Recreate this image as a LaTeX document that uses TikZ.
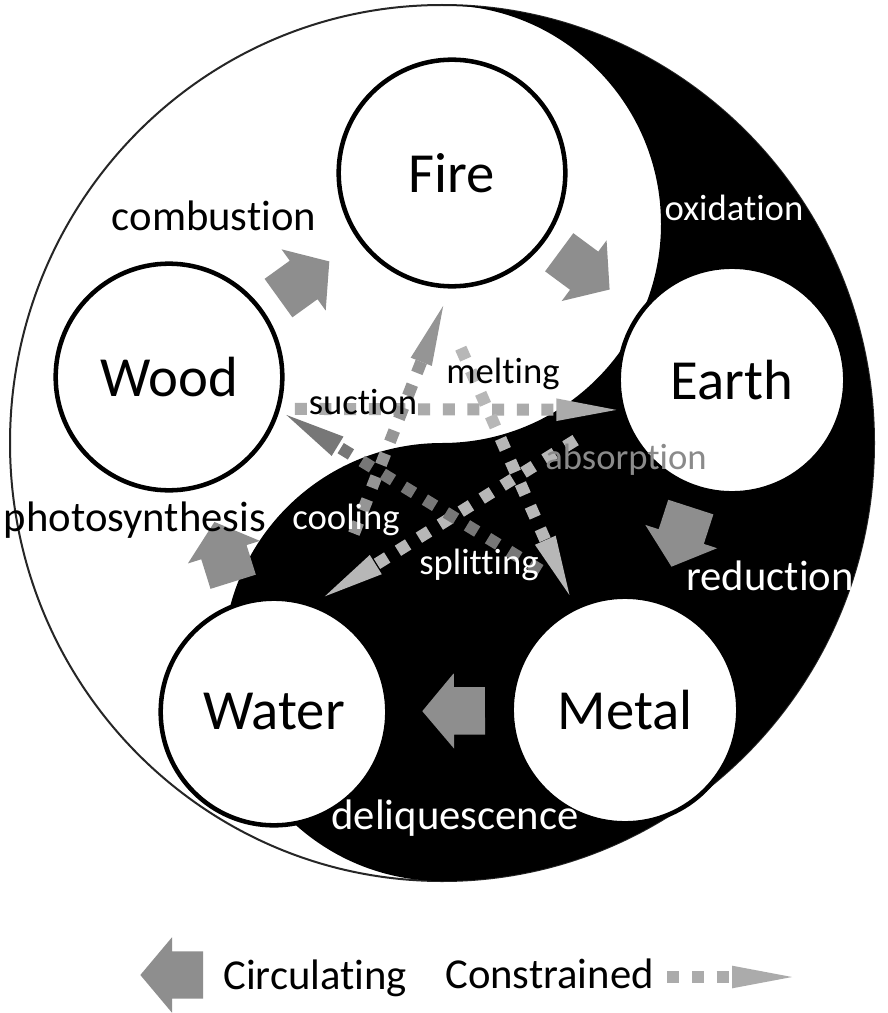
\documentclass[tikz,border=0pt]{standalone}
\usepackage{fontspec}
\setmainfont{Carlito}[Ligatures={NoCommon,NoContextual}]
\usetikzlibrary{shapes.arrows,arrows.meta}

\definecolor{circgray}{HTML}{8E8E8E}
\definecolor{consgray}{HTML}{ABABAB}
\definecolor{consdark}{HTML}{777777}
\definecolor{consmid}{HTML}{959595}
\definecolor{conslight}{HTML}{B7B7B7}
\definecolor{labgray}{HTML}{8A8A8A}

\newcommand{\elemfont}{\fontsize{42.5}{48}\selectfont}
\newcommand{\bigfont}{\fontsize{32}{38}\selectfont}
\newcommand{\smallfont}{\fontsize{27.5}{32}\selectfont}

\tikzset{
  element/.style={circle, draw=black, line width=3.4pt, fill=white,
    minimum size=170pt, inner sep=0pt, font=\elemfont},
  circ/.style={single arrow, fill=circgray, draw=none, inner xsep=0pt,
    inner ysep=17.6pt, minimum height=47pt, single arrow head extend=10.5pt,
    single arrow tip angle=100, anchor=tip},
  flow/.style={circ, sloped, allow upside down},
  cons/.style={draw=consgray, line width=9pt, dash pattern=on 9pt off 9.5pt,
    -{Triangle[length=45pt, width=17pt, line width=0pt]}},
  lab/.style={inner sep=0pt, font=\smallfont},
  biglab/.style={inner sep=0pt, font=\bigfont},
}

\begin{document}
\begin{tikzpicture}[x=0.75pt,y=0.75pt]
 \useasboundingbox[fill=white] (0,0) rectangle (888,-1013);
 % yin and yang
 \draw[line width=1.5pt,black!85] (442,-443) ellipse [x radius=432, y radius=438];
 \fill[black] (442,-5) arc[start angle=90, end angle=-90, x radius=432, y radius=438]
   arc[start angle=-90, end angle=-270, radius=219]
   arc[start angle=-90, end angle=90, radius=219] -- cycle;
 % the five elements
 \node[element] (fire) at (452,-173) {Fire};
 \node[element] (wood) at (169,-377) {Wood};
 \node[element] (earth) at (732,-380) {Earth};
 \node[element] (water) at (274,-712) {Water};
 \node[element] (metal) at (625,-710) {Metal};
 % circulating
 \path (wood) -- node[flow, pos=0.70] (c1) {} (fire);
 \path (fire) -- node[flow, pos=0.69] (c2) {} (earth);
 \path (earth) -- node[flow, pos=0.70] (c3) {} (metal);
 \path (metal) -- node[flow, pos=0.73] (c4) {} (water);
 \path (water) -- node[flow, pos=0.70] (c5) {} (wood);
 % constrained
 \draw[cons, shorten <=11pt, shorten >=3pt] (wood.-16) -- (earth.195);
 \draw[cons, draw=conslight, shorten <=40pt, shorten >=10pt] (earth.196) -- (water.70);
 \draw[cons, draw=conslight, shorten <=50pt, shorten >=9pt] (fire.261) -- (metal.116);
 \draw[cons, draw=consmid, shorten <=60pt, shorten >=14pt] (water.64) -- (fire.269);
 \draw[cons, draw=consdark, shorten <=43pt, shorten >=6pt] (metal.108) -- (wood.-17);
 % labels
 \node[biglab] (combustion) at (214,-216) {combustion};
 \node[lab, text=white] (oxidation) at (734,-208) {oxidation};
 \node[lab] (melting) at (503,-374) {melting};
 \node[lab] (suction) at (363,-402) {suction};
 \node[lab, text=labgray] (absorption) at (626,-460) {absorption};
 \node[lab, text=white] (cooling) at (346,-520) {cooling};
 \node[lab, text=white] (splitting) at (479,-565) {splitting};
 \node[biglab] (photosynthesis) at (135,-520) {photosynthesis};
 \node[biglab, text=white] (reduction) at (770,-576) {reduction};
 \node[biglab, text=white] (deliquescence) at (455,-818) {deliquescence};
 % legend
 \node[circ, shape border rotate=180] (legarrow) at (140,-975) {};
 \node[biglab, anchor=west] (circulating) at (223,-978) {Circulating};
 \node[biglab, anchor=west] (constrained) at (445,-974) {Constrained};
 \coordinate (legtip) at (792,-977);
 \draw[cons, shorten <=10pt] (constrained.east |- legtip) -- (legtip);
\end{tikzpicture}
\end{document}
